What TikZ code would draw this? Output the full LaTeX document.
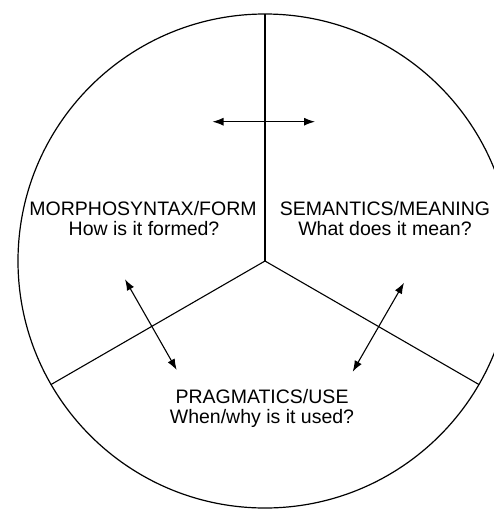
\documentclass[tikz,border=0pt]{standalone}
\usepackage{fontspec}
\setmainfont{Liberation Sans}
\usetikzlibrary{arrows.meta}
\begin{document}
\begin{tikzpicture}[x=1pt,y=-1pt,
  rim/.style={line width=1.2pt},
  spoke/.style={line width=1.1pt},
  link/.style={line width=1.1pt,{Latex[length=11pt,width=8pt]}-{Latex[length=11pt,width=8pt]}},
  lbl/.style={anchor=base,inner sep=0pt,font=\fontsize{19.5}{20}\selectfont}]
\useasboundingbox (0,0) rectangle (494,509);
\fill[white] (0,0) rectangle (494,509);
\coordinate (c) at (265,261);
\draw[rim] (c) circle[radius=247];
\path (c) ++(0,-247) coordinate (ptop);
\path (c) ++(-213.9,123.5) coordinate (pleft);
\path (c) ++(213.9,123.5) coordinate (pright);
\draw[spoke] (c) -- (ptop);
\draw[spoke] (c) -- (pleft);
\draw[spoke] (c) -- (pright);
% labels
\node[lbl] (formA) at (143,215) {MORPHOSYNTAX/FORM};
\node[lbl] (formB) at (144,235) {How is it formed?};
\node[lbl] (semA) at (385,215) {SEMANTICS/MEANING};
\node[lbl] (semB) at (385,235) {What does it mean?};
\node[lbl] (pragA) at (262,403) {PRAGMATICS/USE};
\node[lbl] (pragB) at (262,423) {When/why is it used?};
% arrows
\coordinate (h1) at (212.5,121.7);
\coordinate (h2) at (315,121.7);
\coordinate (l1) at (125,279.3);
\coordinate (l2) at (176.7,370);
\coordinate (r1) at (404,282.7);
\coordinate (r2) at (352.7,371.7);
\draw[link] (h1) -- (h2);
\draw[link] (l1) -- (l2);
\draw[link] (r1) -- (r2);
\end{tikzpicture}
\end{document}
